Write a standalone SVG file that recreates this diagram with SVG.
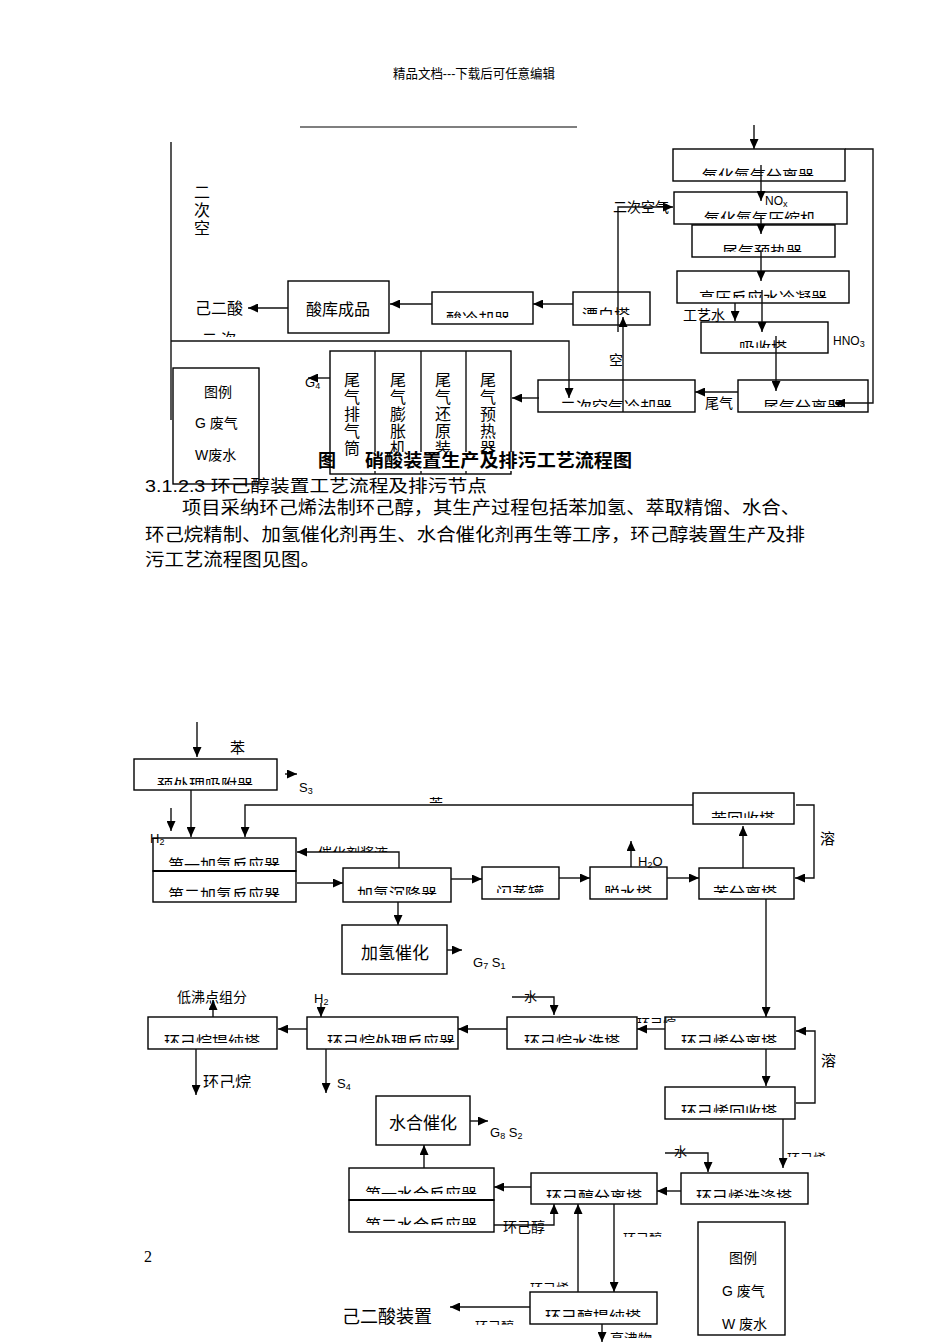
<svg xmlns="http://www.w3.org/2000/svg" width="950" height="1344" viewBox="0 0 950 1344">
<style>
text{font-family:"Liberation Sans","Noto Sans CJK SC",sans-serif;fill:#000}
.b{fill:#fff;stroke:#000;stroke-width:1.4}
.l{fill:none;stroke:#111;stroke-width:1.4}
.a{marker-end:url(#ah)}
.t{font-size:16px;text-anchor:middle}
.s{font-size:14px}
.m{font-size:13px}
.sub{font-size:9px}
.v{font-size:16px;text-anchor:middle}
</style>
<defs>
<marker id="ah" markerUnits="userSpaceOnUse" markerWidth="11" markerHeight="9" refX="10" refY="4.5" orient="auto"><path d="M0,0 L10,4.5 L0,9 Z" fill="#000"/></marker>
<clipPath id="c_n1" clipPathUnits="userSpaceOnUse"><rect x="673" y="149" width="172" height="27"/></clipPath>
<clipPath id="c_n2" clipPathUnits="userSpaceOnUse"><rect x="674" y="192" width="173" height="27"/></clipPath>
<clipPath id="c_n3" clipPathUnits="userSpaceOnUse"><rect x="692" y="225" width="143" height="27"/></clipPath>
<clipPath id="c_n4" clipPathUnits="userSpaceOnUse"><rect x="677" y="271" width="172" height="27"/></clipPath>
<clipPath id="c_n5" clipPathUnits="userSpaceOnUse"><rect x="701" y="322" width="127" height="26"/></clipPath>
<clipPath id="c_n6" clipPathUnits="userSpaceOnUse"><rect x="738" y="380" width="130" height="27"/></clipPath>
<clipPath id="c_n7" clipPathUnits="userSpaceOnUse"><rect x="538" y="380" width="157" height="27"/></clipPath>
<clipPath id="c_n8" clipPathUnits="userSpaceOnUse"><rect x="573" y="292" width="77" height="23"/></clipPath>
<clipPath id="c_n9" clipPathUnits="userSpaceOnUse"><rect x="432" y="292" width="101" height="26"/></clipPath>
<clipPath id="c_b1" clipPathUnits="userSpaceOnUse"><rect x="134" y="759" width="143" height="26"/></clipPath>
<clipPath id="c_b2" clipPathUnits="userSpaceOnUse"><rect x="153" y="838" width="143" height="28"/></clipPath>
<clipPath id="c_b3" clipPathUnits="userSpaceOnUse"><rect x="153" y="871" width="143" height="26"/></clipPath>
<clipPath id="c_b4" clipPathUnits="userSpaceOnUse"><rect x="343" y="868" width="108" height="27"/></clipPath>
<clipPath id="c_b5" clipPathUnits="userSpaceOnUse"><rect x="482" y="867" width="77" height="26"/></clipPath>
<clipPath id="c_b6" clipPathUnits="userSpaceOnUse"><rect x="590" y="867" width="77" height="26"/></clipPath>
<clipPath id="c_b7" clipPathUnits="userSpaceOnUse"><rect x="699" y="868" width="95" height="25"/></clipPath>
<clipPath id="c_b8" clipPathUnits="userSpaceOnUse"><rect x="693" y="793" width="101" height="25"/></clipPath>
<clipPath id="c_b10" clipPathUnits="userSpaceOnUse"><rect x="148" y="1017" width="129" height="26"/></clipPath>
<clipPath id="c_b11" clipPathUnits="userSpaceOnUse"><rect x="307" y="1017" width="151" height="26"/></clipPath>
<clipPath id="c_b12" clipPathUnits="userSpaceOnUse"><rect x="507" y="1017" width="130" height="26"/></clipPath>
<clipPath id="c_b13" clipPathUnits="userSpaceOnUse"><rect x="665" y="1017" width="130" height="26"/></clipPath>
<clipPath id="c_b14" clipPathUnits="userSpaceOnUse"><rect x="665" y="1087" width="130" height="26"/></clipPath>
<clipPath id="c_b16" clipPathUnits="userSpaceOnUse"><rect x="349" y="1168" width="145" height="26"/></clipPath>
<clipPath id="c_b17" clipPathUnits="userSpaceOnUse"><rect x="349" y="1200" width="145" height="25"/></clipPath>
<clipPath id="c_b18" clipPathUnits="userSpaceOnUse"><rect x="531" y="1173" width="126" height="25"/></clipPath>
<clipPath id="c_b19" clipPathUnits="userSpaceOnUse"><rect x="681" y="1173" width="127" height="25"/></clipPath>
<clipPath id="c_b20" clipPathUnits="userSpaceOnUse"><rect x="530" y="1292" width="127" height="25"/></clipPath>
<clipPath id="c_l1" clipPathUnits="userSpaceOnUse"><rect x="420" y="790" width="32" height="13"/></clipPath>
<clipPath id="c_l2" clipPathUnits="userSpaceOnUse"><rect x="310" y="840" width="90" height="12"/></clipPath>
<clipPath id="c_l3" clipPathUnits="userSpaceOnUse"><rect x="630" y="1010" width="50" height="13"/></clipPath>
<clipPath id="c_l4" clipPathUnits="userSpaceOnUse"><rect x="785" y="1145" width="50" height="12"/></clipPath>
<clipPath id="c_l5" clipPathUnits="userSpaceOnUse"><rect x="620" y="1225" width="50" height="12"/></clipPath>
<clipPath id="c_l6" clipPathUnits="userSpaceOnUse"><rect x="528" y="1275" width="50" height="12"/></clipPath>
<clipPath id="c_l7" clipPathUnits="userSpaceOnUse"><rect x="472" y="1313" width="50" height="12"/></clipPath>
<clipPath id="c_l8" clipPathUnits="userSpaceOnUse"><rect x="605" y="1325" width="55" height="13"/></clipPath>
<clipPath id="c_l9" clipPathUnits="userSpaceOnUse"><rect x="195" y="325" width="45" height="12"/></clipPath>
<clipPath id="c_l10" clipPathUnits="userSpaceOnUse"><rect x="200" y="1065" width="60" height="23"/></clipPath>
</defs>
<rect x="0" y="0" width="950" height="1344" fill="#fff"/>

<!-- page header -->
<g id="header">
<text x="474" y="78" font-size="13" text-anchor="middle" fill="#333" textLength="162" lengthAdjust="spacingAndGlyphs">精品文档---下载后可任意编辑</text>
<line x1="300" y1="127" x2="577" y2="127" stroke="#000" stroke-width="1.2"/>
</g>

<!-- ===== TOP DIAGRAM NODES ===== -->
<g id="n1"><rect class="b" x="673" y="149" width="172" height="32"/><text class="t" x="758" y="182" clip-path="url(#c_n1)">氧化氮气分离器</text></g>
<g id="n2"><rect class="b" x="674" y="192" width="173" height="32"/><text class="t" x="760" y="225" clip-path="url(#c_n2)">氧化氮气压缩机</text></g>
<g id="n3"><rect class="b" x="692" y="225" width="143" height="32"/><text class="t" x="762" y="258" clip-path="url(#c_n3)">尾气预热器</text></g>
<g id="n4"><rect class="b" x="677" y="271" width="172" height="32"/><text class="t" x="763" y="304" clip-path="url(#c_n4)">高压反应水冷凝器</text></g>
<g id="n5"><rect class="b" x="701" y="322" width="127" height="31"/><text class="t" x="763" y="354" clip-path="url(#c_n5)">吸收塔</text></g>
<g id="n6"><rect class="b" x="738" y="380" width="130" height="32"/><text class="t" x="803" y="413" clip-path="url(#c_n6)">尾气分离器</text></g>
<g id="n7"><rect class="b" x="538" y="380" width="157" height="32"/><text class="t" x="616" y="413" clip-path="url(#c_n7)">二次空气冷却器</text></g>
<g id="n8"><rect class="b" x="573" y="292" width="77" height="33"/><text class="t" x="606" y="321" clip-path="url(#c_n8)">漂白塔</text></g>
<g id="n9"><rect class="b" x="432" y="292" width="101" height="32"/><text class="t" x="478" y="325" clip-path="url(#c_n9)">酸冷却器</text></g>
<g id="n10"><rect class="b" x="288" y="281" width="101" height="52"/><text class="t" x="338" y="315">酸库成品</text></g>
<g id="n11">
<rect class="b" x="330" y="351" width="181" height="123"/>
<line class="l" x1="375" y1="351" x2="375" y2="474"/>
<line class="l" x1="421" y1="351" x2="421" y2="474"/>
<line class="l" x1="466" y1="351" x2="466" y2="474"/>
<text class="v" x="352"><tspan x="352" y="386">尾</tspan><tspan x="352" y="403">气</tspan><tspan x="352" y="420">排</tspan><tspan x="352" y="437">气</tspan><tspan x="352" y="454">筒</tspan></text>
<text class="v" x="398"><tspan x="398" y="386">尾</tspan><tspan x="398" y="403">气</tspan><tspan x="398" y="420">膨</tspan><tspan x="398" y="437">胀</tspan><tspan x="398" y="454">机</tspan></text>
<text class="v" x="443"><tspan x="443" y="386">尾</tspan><tspan x="443" y="403">气</tspan><tspan x="443" y="420">还</tspan><tspan x="443" y="437">原</tspan><tspan x="443" y="454">装</tspan></text>
<text class="v" x="488"><tspan x="488" y="386">尾</tspan><tspan x="488" y="403">气</tspan><tspan x="488" y="420">预</tspan><tspan x="488" y="437">热</tspan><tspan x="488" y="454">器</tspan></text>
</g>
<g id="legend1">
<rect class="b" x="173" y="368" width="86" height="116"/>
<text class="s" x="218" y="397" text-anchor="middle">图例</text>
<text class="s" x="195" y="428">G 废气</text>
<text class="s" x="195" y="460">W废水</text>
</g>

<!-- ===== BOTTOM DIAGRAM NODES ===== -->
<g id="b1"><rect class="b" x="134" y="759" width="143" height="31"/><text class="t" x="205" y="791" clip-path="url(#c_b1)">预处理吸附器</text></g>
<g id="b2"><rect class="b" x="153" y="838" width="143" height="33"/><text class="t" x="224" y="871" clip-path="url(#c_b2)">第一加氢反应器</text></g>
<g id="b3"><rect class="b" x="153" y="871" width="143" height="31"/><line x1="153" y1="871" x2="296" y2="871" stroke="#000" stroke-width="2.2"/><text class="t" x="224" y="901" clip-path="url(#c_b3)">第二加氢反应器</text></g>
<g id="b4"><rect class="b" x="343" y="868" width="108" height="34"/><text class="t" x="397" y="900" clip-path="url(#c_b4)">加氢沉降器</text></g>
<g id="b5"><rect class="b" x="482" y="867" width="77" height="32"/><text class="t" x="520" y="899" clip-path="url(#c_b5)">闪蒸罐</text></g>
<g id="b6"><rect class="b" x="590" y="867" width="77" height="32"/><text class="t" x="628" y="899" clip-path="url(#c_b6)">脱水塔</text></g>
<g id="b7"><rect class="b" x="699" y="868" width="95" height="31"/><text class="t" x="745" y="899" clip-path="url(#c_b7)">苯分离塔</text></g>
<g id="b8"><rect class="b" x="693" y="793" width="101" height="31"/><text class="t" x="743" y="825" clip-path="url(#c_b8)">苯回收塔</text></g>
<g id="b9"><rect class="b" x="342" y="925" width="105" height="49"/><text class="t" x="395" y="959" style="font-size:17px">加氢催化</text></g>
<g id="b10"><rect class="b" x="148" y="1017" width="129" height="32"/><text class="t" x="212" y="1048" clip-path="url(#c_b10)">环己烷提纯塔</text></g>
<g id="b11"><rect class="b" x="307" y="1017" width="151" height="32"/><text class="t" x="391" y="1048" clip-path="url(#c_b11)">环己烷处理反应器</text></g>
<g id="b12"><rect class="b" x="507" y="1017" width="130" height="32"/><text class="t" x="572" y="1048" clip-path="url(#c_b12)">环己烷水洗塔</text></g>
<g id="b13"><rect class="b" x="665" y="1017" width="130" height="32"/><text class="t" x="729" y="1048" clip-path="url(#c_b13)">环己烯分离塔</text></g>
<g id="b14"><rect class="b" x="665" y="1087" width="130" height="32"/><text class="t" x="729" y="1118" clip-path="url(#c_b14)">环己烯回收塔</text></g>
<g id="b15"><rect class="b" x="376" y="1096" width="94" height="49"/><text class="t" x="423" y="1129" style="font-size:17px">水合催化</text></g>
<g id="b16"><rect class="b" x="349" y="1168" width="145" height="32"/><text class="t" x="421" y="1200" clip-path="url(#c_b16)">第一水合反应器</text></g>
<g id="b17"><rect class="b" x="349" y="1200" width="145" height="32"/><line x1="349" y1="1200" x2="494" y2="1200" stroke="#000" stroke-width="2.2"/><text class="t" x="421" y="1231" clip-path="url(#c_b17)">第二水合反应器</text></g>
<g id="b18"><rect class="b" x="531" y="1173" width="126" height="31"/><text class="t" x="594" y="1203" clip-path="url(#c_b18)">环己醇分离塔</text></g>
<g id="b19"><rect class="b" x="681" y="1173" width="127" height="31"/><text class="t" x="744" y="1203" clip-path="url(#c_b19)">环己烯洗涤塔</text></g>
<g id="b20"><rect class="b" x="530" y="1292" width="127" height="32"/><text class="t" x="593" y="1323" clip-path="url(#c_b20)">环己醇提纯塔</text></g>
<g id="legend2">
<rect class="b" x="698" y="1222" width="87" height="113"/>
<text class="s" x="743" y="1263" text-anchor="middle">图例</text>
<text class="s" x="722" y="1296">G  废气</text>
<text class="s" x="722" y="1329">W  废水</text>
</g>

<!-- ===== CONNECTORS ===== -->
<g id="connectors">
<!-- top -->
<line class="l a" x1="754" y1="125" x2="754" y2="149"/>
<line class="l a" x1="761" y1="165" x2="761" y2="201"/>
<polyline class="l a" points="845,149 873,149 873,403 835,403"/>
<polyline class="l a" points="618,332 618,207 673,207"/>
<line class="l a" x1="761" y1="215" x2="761" y2="234"/>
<line class="l a" x1="761" y1="250" x2="761" y2="281"/>
<line class="l a" x1="762" y1="290" x2="762" y2="332"/>
<line class="l a" x1="735" y1="303" x2="735" y2="321"/>
<line class="l a" x1="776" y1="336" x2="776" y2="391"/>
<line class="l a" x1="738" y1="392" x2="695" y2="392"/>
<line class="l a" x1="623" y1="412" x2="623" y2="317"/>
<line class="l a" x1="573" y1="304" x2="533" y2="304"/>
<line class="l a" x1="432" y1="304" x2="390" y2="304"/>
<line class="l a" x1="288" y1="308" x2="248" y2="308"/>
<line class="l" x1="171" y1="142" x2="171" y2="420"/>
<polyline class="l a" points="171,341 569,341 569,398"/>
<line class="l a" x1="539" y1="398" x2="512" y2="398"/>
<line class="l a" x1="330" y1="378" x2="308" y2="378"/>
<!-- bottom -->
<line class="l a" x1="197" y1="722" x2="197" y2="757"/>
<line class="l a" x1="285" y1="774" x2="297" y2="774"/>
<line class="l a" x1="191" y1="790" x2="191" y2="837"/>
<line class="l a" x1="171" y1="808" x2="171" y2="831"/>
<polyline class="l a" points="693,805 245,805 245,837"/>
<polyline class="l a" points="796,805 814,805 814,878 795,878"/>
<line class="l a" x1="743" y1="868" x2="743" y2="826"/>
<line class="l a" x1="631" y1="867" x2="631" y2="841"/>
<line class="l a" x1="667" y1="878" x2="699" y2="878"/>
<line class="l a" x1="559" y1="878" x2="590" y2="878"/>
<line class="l a" x1="451" y1="879" x2="482" y2="879"/>
<line class="l a" x1="297" y1="883" x2="343" y2="883"/>
<polyline class="l a" points="399,868 399,852 297,852"/>
<line class="l a" x1="398" y1="902" x2="398" y2="925"/>
<line class="l a" x1="447" y1="950" x2="462" y2="950"/>
<line class="l a" x1="766" y1="899" x2="766" y2="1017"/>
<line class="l a" x1="665" y1="1029" x2="637" y2="1029"/>
<polyline class="l a" points="512,997 554,997 554,1015"/>
<line class="l a" x1="507" y1="1029" x2="458" y2="1029"/>
<line class="l a" x1="321" y1="1003" x2="321" y2="1017"/>
<line class="l a" x1="326" y1="1049" x2="326" y2="1093"/>
<line class="l a" x1="307" y1="1029" x2="278" y2="1029"/>
<line class="l a" x1="213" y1="1017" x2="213" y2="1000"/>
<line class="l a" x1="196" y1="1049" x2="196" y2="1095"/>
<line class="l a" x1="766" y1="1049" x2="766" y2="1086"/>
<polyline class="l a" points="796,1103 815,1103 815,1031 796,1031"/>
<line class="l a" x1="783" y1="1119" x2="783" y2="1168"/>
<polyline class="l a" points="665,1153 708,1153 708,1172"/>
<line class="l a" x1="681" y1="1191" x2="657" y2="1191"/>
<line class="l a" x1="531" y1="1187" x2="494" y2="1187"/>
<line class="l a" x1="424" y1="1168" x2="424" y2="1145"/>
<line class="l a" x1="470" y1="1121" x2="488" y2="1121"/>
<polyline class="l a" points="494,1225 554,1225 554,1204"/>
<line class="l a" x1="578" y1="1292" x2="578" y2="1204"/>
<line class="l a" x1="614" y1="1204" x2="614" y2="1292"/>
<line class="l a" x1="530" y1="1307" x2="450" y2="1307"/>
<line class="l a" x1="602" y1="1324" x2="602" y2="1342"/>
</g>

<!-- ===== LABELS ===== -->
<g id="labels">
<text class="v" x="202"><tspan x="202" y="198">二</tspan><tspan x="202" y="216">次</tspan><tspan x="202" y="234">空</tspan></text>
<text x="195" y="314" font-size="16">己二酸</text>
<text class="s" x="613" y="212">二次空气</text>
<text x="765" y="205" font-size="12">NO<tspan class="sub" dy="2">x</tspan></text>
<text class="s" x="683" y="320">工艺水</text>
<text x="833" y="345" font-size="12">HNO<tspan class="sub" dy="2">3</tspan></text>
<text class="s" x="609" y="365">空</text>
<text class="s" x="705" y="408">尾气</text>
<text class="m" x="305" y="387">G<tspan class="sub" dy="2">4</tspan></text>
<text x="202" y="344" font-size="15" clip-path="url(#c_l9)">二 次</text>
<rect x="360" y="452" width="282" height="19" fill="#fff"/>
<text x="318" y="467" font-size="18" font-weight="bold">图</text>
<text x="365" y="467" font-size="18" font-weight="bold" textLength="267" lengthAdjust="spacingAndGlyphs">硝酸装置生产及排污工艺流程图</text>

<text x="145" y="492" font-size="17" textLength="342" lengthAdjust="spacingAndGlyphs">3.1.2.3 环己醇装置工艺流程及排污节点</text>
<text x="182" y="514" font-size="18" textLength="618" lengthAdjust="spacingAndGlyphs">项目采纳环己烯法制环己醇，其生产过程包括苯加氢、萃取精馏、水合、</text>
<text x="145" y="541" font-size="18" textLength="660" lengthAdjust="spacingAndGlyphs">环己烷精制、加氢催化剂再生、水合催化剂再生等工序，环己醇装置生产及排</text>
<text x="145" y="566" font-size="18" textLength="175" lengthAdjust="spacingAndGlyphs">污工艺流程图见图。</text>

<text x="230" y="753" font-size="15">苯</text>
<text class="m" x="299" y="792">S<tspan class="sub" dy="2">3</tspan></text>
<text class="m" x="150" y="843">H<tspan class="sub" dy="2">2</tspan></text>
<text x="436" y="809" font-size="14" text-anchor="middle" clip-path="url(#c_l1)">苯</text>
<text x="820" y="844" font-size="15">溶</text>
<text class="m" x="638" y="866">H<tspan class="sub" dy="2">2</tspan><tspan dy="-2">O</tspan></text>
<text class="s" x="318" y="858" clip-path="url(#c_l2)">催化剂浆液</text>
<text class="m" x="473" y="967">G<tspan class="sub" dy="2">7</tspan><tspan dy="-2"> S</tspan><tspan class="sub" dy="2">1</tspan></text>
<text class="s" x="177" y="1002">低沸点组分</text>
<text class="m" x="314" y="1003">H<tspan class="sub" dy="2">2</tspan></text>
<text x="524" y="1001" font-size="13">水</text>
<text class="m" x="637" y="1028" clip-path="url(#c_l3)">环己烷</text>
<text x="821" y="1066" font-size="15">溶</text>
<text x="203" y="1088" font-size="16" clip-path="url(#c_l10)">环己烷</text>
<text class="m" x="337" y="1088">S<tspan class="sub" dy="2">4</tspan></text>
<text class="m" x="490" y="1137">G<tspan class="sub" dy="2">8</tspan><tspan dy="-2"> S</tspan><tspan class="sub" dy="2">2</tspan></text>
<text x="674" y="1156" font-size="13">水</text>
<text class="m" x="787" y="1163" clip-path="url(#c_l4)">环己烯</text>
<text class="s" x="503" y="1232">环己醇</text>
<text class="m" x="623" y="1243" clip-path="url(#c_l5)">环己醇</text>
<text class="m" x="530" y="1293" clip-path="url(#c_l6)">环己烯</text>
<text x="342" y="1323" font-size="18">己二酸装置</text>
<text class="m" x="475" y="1331" clip-path="url(#c_l7)">环己醇</text>
<text class="s" x="610" y="1344" clip-path="url(#c_l8)">高沸物</text>
<text x="144" y="1262" font-size="16" style="font-family:'Liberation Serif',serif">2</text>
</g>
</svg>
